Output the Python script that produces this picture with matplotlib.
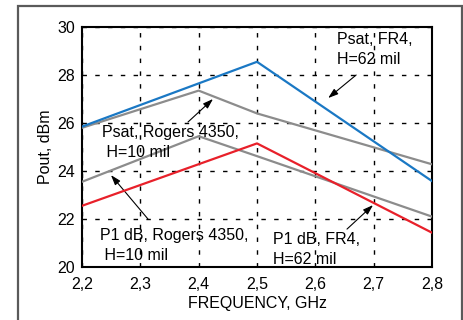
import matplotlib.pyplot as plt
from matplotlib.patches import Rectangle
import numpy as np

plt.rcParams['font.family'] = ['Liberation Sans', 'DejaVu Sans']

# frequency points (GHz) and output power (dBm)
freq_psat_fr4 = [2.2, 2.5, 2.8]
psat_fr4 = [25.85, 28.55, 23.58]

freq_psat_rog = [2.2, 2.4, 2.5, 2.8]
psat_rog = [25.8, 27.35, 26.4, 24.28]

freq_p1_rog = [2.2, 2.4, 2.5, 2.8]
p1_rog = [23.55, 25.45, 24.62, 22.1]

freq_p1_fr4 = [2.2, 2.5, 2.8]
p1_fr4 = [22.55, 25.15, 21.43]

xticks = [2.2, 2.3, 2.4, 2.5, 2.6, 2.7, 2.8]
xticklabels = ['2,2', '2,3', '2,4', '2,5', '2,6', '2,7', '2,8']
yticks = [20, 22, 24, 26, 28, 30]

fig = plt.figure(figsize=(4.64, 3.2), dpi=100)
ax = fig.add_axes([0.1767, 0.1656, 0.7543, 0.75])

# outer frame around the figure
fig.patches.append(Rectangle((18/464, -0.05), 444/464, 1.05 - 6/320, transform=fig.transFigure,
                             fill=False, edgecolor='#5a5a5a', linewidth=1.6))

blue = '#1a78c4'
red = '#e8202a'
gray = '#8c8c8c'
ax.plot(freq_psat_rog, psat_rog, color=gray, lw=1.6, zorder=3)
ax.plot(freq_p1_rog, p1_rog, color=gray, lw=1.6, zorder=3)
ax.plot(freq_p1_fr4, p1_fr4, color=red, lw=1.6, zorder=4)
ax.plot(freq_psat_fr4, psat_fr4, color=blue, lw=1.6, zorder=4)

ax.set_xlim(2.2, 2.8)
ax.set_ylim(20, 30)
ax.set_xticks(xticks)
ax.set_xticklabels(xticklabels)
ax.set_yticks(yticks)
ax.tick_params(length=0, labelsize=11.5)
ax.tick_params(axis='x', pad=7)
ax.tick_params(axis='y', pad=5)
ax.grid(True, color='black', linestyle=(0, (3.2, 6.0)), linewidth=1.0)
for s in ax.spines.values():
    s.set_linewidth(1.5)

ax.set_xlabel('FREQUENCY, GHz', fontsize=11.5, labelpad=3)
ax.set_ylabel('Pout, dBm', fontsize=11.5, labelpad=3)

fs = 11.5
ls = 1.42
arrow = dict(arrowstyle='-|>,head_length=0.6,head_width=0.2', color='black', lw=0.8,
             mutation_scale=10, shrinkA=0, shrinkB=0)
ax.annotate('', xy=(2.622, 27.04), xytext=(2.67, 28.0), arrowprops=arrow)
ax.text(2.637, 29.79, 'Psat, FR4,\nH=62 mil', fontsize=fs, va='top', ha='left', linespacing=ls)

ax.annotate('', xy=(2.4246, 27.0), xytext=(2.3817, 26.04), arrowprops=arrow)
ax.text(2.2343, 25.92, 'Psat, Rogers 4350,\n H=10 mil', fontsize=fs, va='top', ha='left', linespacing=ls)

ax.annotate('', xy=(2.2497, 23.83), xytext=(2.3131, 22.0), arrowprops=arrow)
ax.text(2.231, 21.61, 'P1 dB, Rogers 4350,\n H=10 mil', fontsize=fs, va='top', ha='left', linespacing=ls)

ax.annotate('', xy=(2.6989, 22.58), xytext=(2.6543, 21.58), arrowprops=arrow)
ax.text(2.527, 21.47, 'P1 dB, FR4,\nH=62 mil', fontsize=fs, va='top', ha='left', linespacing=ls)

plt.savefig('out.png', dpi=100)
